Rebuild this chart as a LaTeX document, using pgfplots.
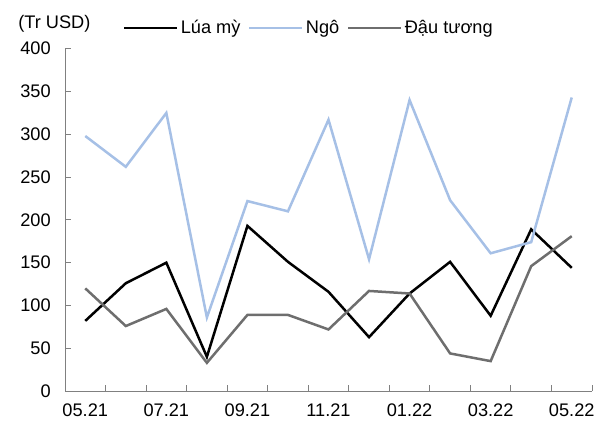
\documentclass[border=0pt]{standalone}
\usepackage{fontspec}
\setmainfont{Liberation Sans}
\usepackage{pgfplots}
\pgfplotsset{compat=1.18}
\definecolor{ngo}{RGB}{166,192,230}
\definecolor{dau}{RGB}{110,110,110}
\definecolor{axgray}{RGB}{128,128,128}
\begin{document}
\fontsize{18.2}{21}\selectfont
\begin{tikzpicture}
\begin{axis}[
  scale only axis, width=527pt, height=342.4pt,
  xmin=-0.5, xmax=12.5, ymin=0, ymax=400,
  axis x line*=bottom, axis y line*=left,
  axis line style={axgray, line width=1pt},
  xtick={0,2,...,12},
  xticklabels={05.21,07.21,09.21,11.21,01.22,03.22,05.22},
  minor xtick={-0.5,0.5,...,12.5},
  major x tick style={draw=none},
  ytick={0,50,...,400},
  tick align=inside,
  major tick length=6pt, minor tick length=6pt,
  tick style={axgray, line width=1pt},
  tick label style={font=\fontsize{18.2}{21}\selectfont},
  yticklabel style={xshift=-8pt},
  xticklabel style={yshift=-6pt},
  /pgf/number format/assume math mode=true,
  legend style={at={(0.463,1.06)}, anchor=center, draw=none, fill=none,
    font=\fontsize{18.2}{21}\selectfont, legend columns=3,
    nodes={inner sep=2.5pt}, /tikz/every even column/.append style={column sep=5pt}},
  legend image code/.code={\draw[#1] plot coordinates {(0pt,0pt)(26pt,0pt)(53pt,0pt)};},
  clip=false,
]
\addplot[black, line width=2.5pt] coordinates {
(0,82)(1,126)(2,150)(3,40)(4,193)(5,151)(6,116)(7,63)(8,114)(9,151)(10,88)(11,189)(12,144)};
\addlegendentry{Lúa mỳ}
\addplot[ngo, line width=2.5pt] coordinates {
(0,298)(1,262)(2,325)(3,86)(4,222)(5,210)(6,317)(7,154)(8,340)(9,223)(10,161)(11,174)(12,343)};
\addlegendentry{Ngô}
\addplot[dau, line width=2.5pt] coordinates {
(0,120)(1,76)(2,96)(3,33)(4,89)(5,89)(6,72)(7,117)(8,114)(9,44)(10,35)(11,146)(12,181)};
\addlegendentry{Đậu tương}
\node[anchor=base west] at ([xshift=-53pt,yshift=20pt]rel axis cs:0,1) {(Tr USD)};
\coordinate (bl) at (rel axis cs:0,0);
\coordinate (tr) at (rel axis cs:1,1);
\end{axis}
\pgfresetboundingbox
\path[use as bounding box] ([xshift=-65pt,yshift=-30pt]bl) rectangle ([xshift=4pt,yshift=48.7pt]tr);
\end{tikzpicture}
\end{document}
